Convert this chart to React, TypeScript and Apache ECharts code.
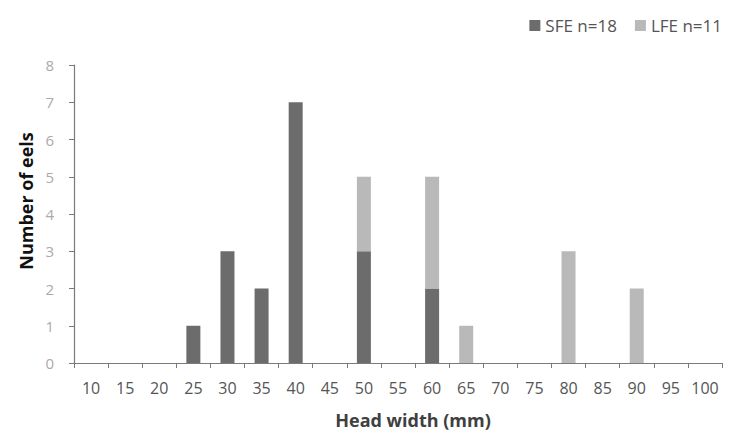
import React, { useEffect, useRef } from "react";
import * as echarts from "echarts";

const categories = ["10","15","20","25","30","35","40","45","50","55","60","65","70","75","80","85","90","95","100"];
const sfe = [0,0,0,1,3,2,7,0,3,0,2,0,0,0,0,0,0,0,0];
const lfe = [0,0,0,0,0,0,0,0,2,0,3,1,0,0,3,0,2,0,0];
const yTicks = [0,1,2,3,4,5,6,7,8];

export default function App() {
  const ref = useRef<HTMLDivElement>(null);
  useEffect(() => {
    if (!ref.current) return;
    const chart = echarts.init(ref.current, undefined, { renderer: "svg" });
    const font = "'Open Sans', 'Noto Sans', sans-serif";
    chart.setOption({
      animation: false,
      backgroundColor: "#ffffff",
      legend: {
        right: 2,
        top: 12,
        itemWidth: 11,
        itemHeight: 11,
        itemGap: 18,
        icon: "rect",
        textStyle: { color: "#555", fontSize: 17, fontFamily: font },
        data: ["SFE n=18", "LFE n=11"],
      },
      grid: { left: 74, right: 7, top: 65, bottom: 68, containLabel: false },
      xAxis: {
        type: "category",
        data: categories,
        boundaryGap: true,
        name: "Head width (mm)",
        nameLocation: "middle",
        nameGap: 48,
        nameTextStyle: { color: "#404040", fontSize: 18, fontWeight: "bold", fontFamily: font, padding: [0, 0, 0, 30] },
        axisLine: { show: true, lineStyle: { color: "#7a7a7a", width: 1.2 } },
        axisTick: { show: true, alignWithLabel: false, length: 5, lineStyle: { color: "#7a7a7a" } },
        axisLabel: { color: "#555", fontSize: 16, margin: 17, fontFamily: font, interval: 0 },
        splitLine: { show: false },
      },
      yAxis: {
        type: "value",
        min: yTicks[0],
        max: yTicks[yTicks.length - 1],
        interval: 1,
        name: "Number of eels",
        nameLocation: "middle",
        nameGap: 38,
        nameRotate: 90,
        nameTextStyle: { color: "#111", fontSize: 18, fontWeight: "bold", fontFamily: font, padding: [0, 0, 0, 26] },
        axisLine: { show: true, lineStyle: { color: "#7a7a7a", width: 1.2 } },
        axisTick: { show: true, length: 5, lineStyle: { color: "#7a7a7a" } },
        axisLabel: { color: "#aaa", fontSize: 15, margin: 20, fontFamily: font },
        splitLine: { show: false },
      },
      series: [
        {
          name: "SFE n=18",
          type: "bar",
          stack: "total",
          barWidth: 14,
          data: sfe,
          itemStyle: { color: "#6c6c6c" },
        },
        {
          name: "LFE n=11",
          type: "bar",
          stack: "total",
          barWidth: 14,
          data: lfe,
          itemStyle: { color: "#b9b9b9" },
        },
      ],
    });
    return () => chart.dispose();
  }, []);
  return <div ref={ref} style={{ width: 729, height: 434, position: "absolute", left: 0, top: 0 }} />;
}
